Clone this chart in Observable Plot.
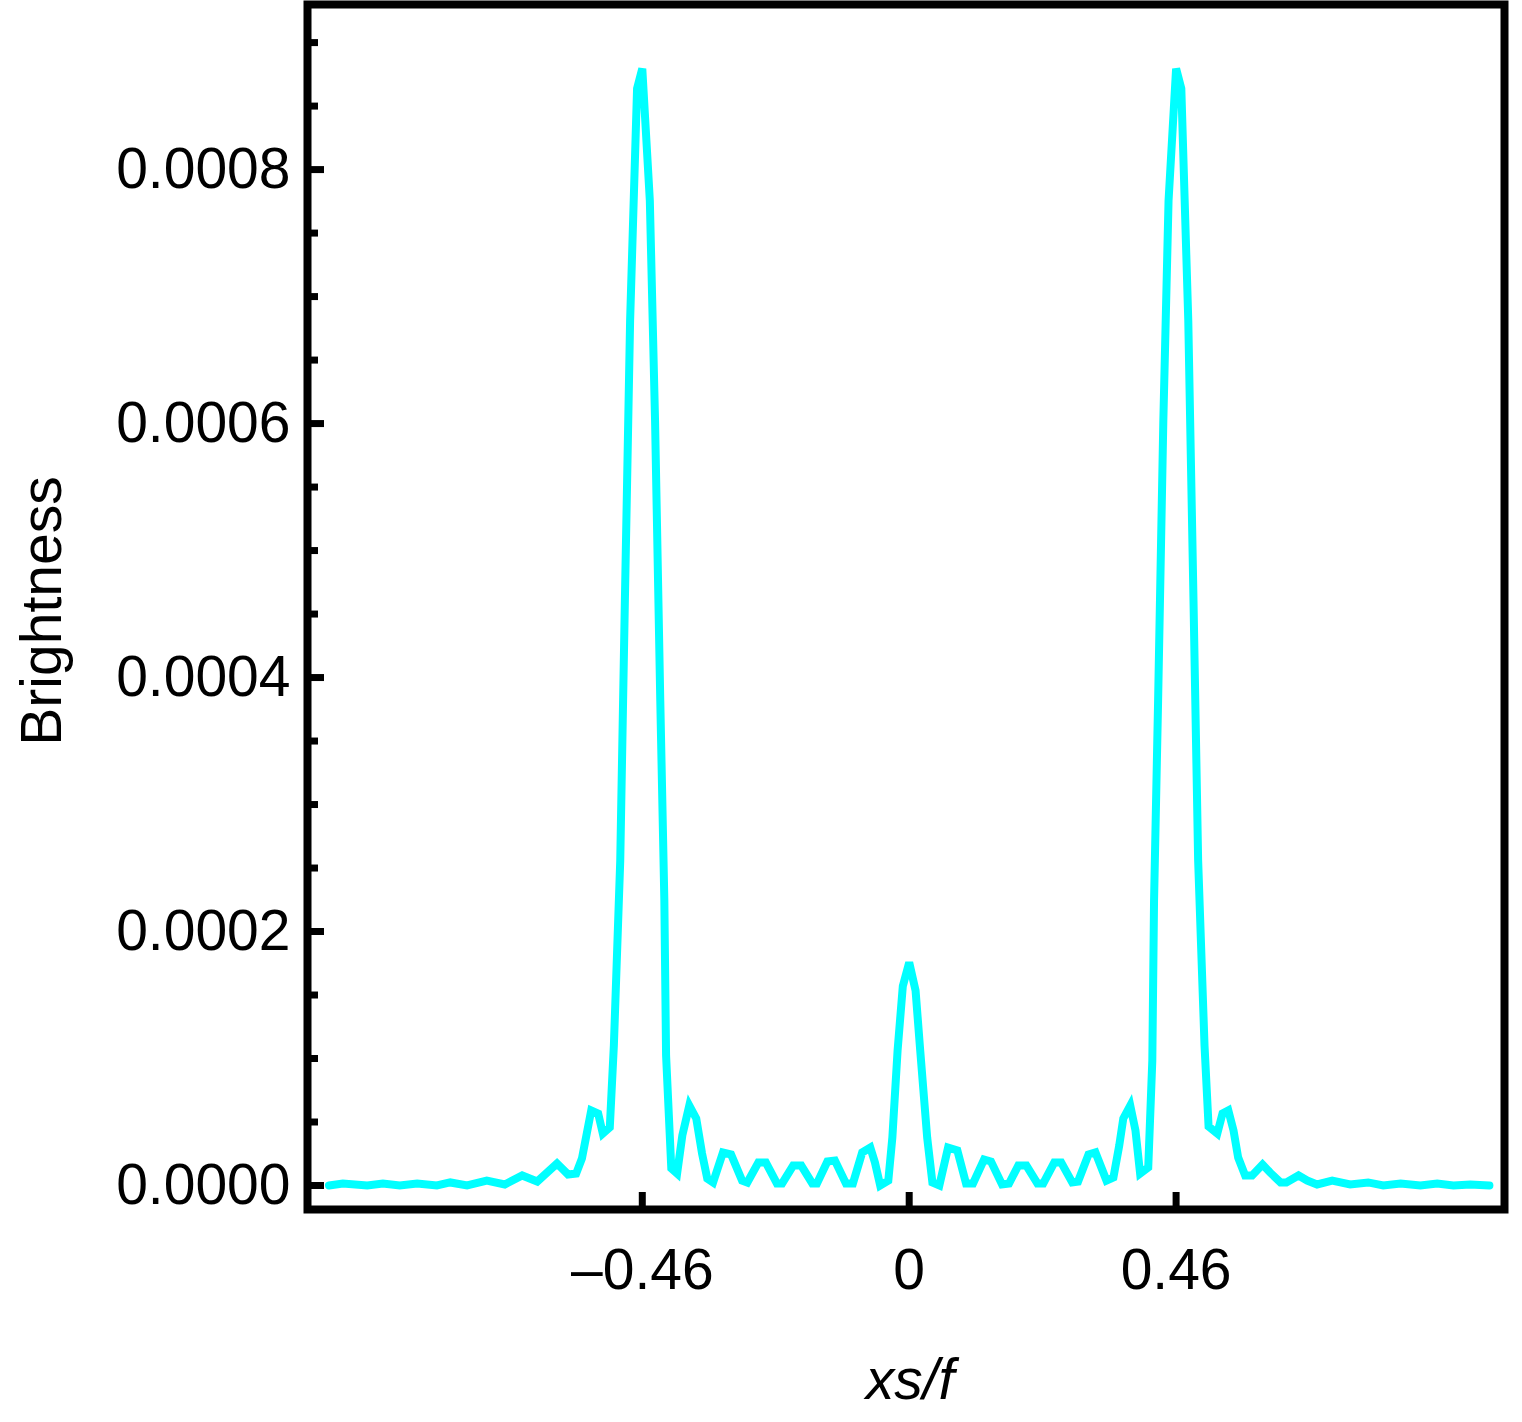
<!DOCTYPE html>
<html>
<head>
<meta charset="utf-8">
<script src="https://cdn.jsdelivr.net/npm/d3@7"></script>
<script src="https://cdn.jsdelivr.net/npm/@observablehq/plot@0.6"></script>
<style>
  html, body { margin: 0; padding: 0; background: #ffffff; }
</style>
</head>
<body>
<div id="chart"></div>
<script>
// xs/f positions of the curve vertices
const xsf = [
  -1.000, -0.976, -0.934, -0.907, -0.878, -0.848, -0.814, -0.791, -0.762, -0.728,
  -0.697, -0.667, -0.641, -0.607, -0.588, -0.574, -0.564, -0.548, -0.536, -0.528,
  -0.516, -0.509, -0.498, -0.490, -0.481, -0.469, -0.460, -0.447, -0.438, -0.429,
  -0.422, -0.419, -0.410, -0.400, -0.391, -0.379, -0.367, -0.357, -0.348, -0.338,
  -0.321, -0.307, -0.288, -0.279, -0.260, -0.247, -0.228, -0.219, -0.200, -0.186,
  -0.167, -0.159, -0.141, -0.128, -0.109, -0.097, -0.081, -0.067, -0.059, -0.050,
  -0.036, -0.029, -0.020, -0.011, 0.000, 0.011, 0.019, 0.031, 0.040, 0.052,
  0.067, 0.083, 0.098, 0.110, 0.129, 0.141, 0.160, 0.172, 0.188, 0.202,
  0.221, 0.231, 0.250, 0.262, 0.281, 0.291, 0.309, 0.321, 0.340, 0.352,
  0.362, 0.369, 0.381, 0.390, 0.398, 0.412, 0.419, 0.422, 0.429, 0.438,
  0.447, 0.460, 0.469, 0.481, 0.490, 0.498, 0.509, 0.516, 0.531, 0.540,
  0.550, 0.559, 0.567, 0.579, 0.591, 0.609, 0.622, 0.640, 0.650, 0.671,
  0.686, 0.703, 0.729, 0.760, 0.791, 0.817, 0.847, 0.881, 0.910, 0.938,
  0.967, 1.000
];

// Brightness at each vertex
const brightness = [
  0.0e-6, 1.6e-6, 0.0e-6, 1.6e-6, 0.0e-6, 1.6e-6, 0.0e-6, 2.4e-6, 0.0e-6, 3.9e-6,
  0.8e-6, 7.9e-6, 3.1e-6, 17.3e-6, 8.7e-6, 9.4e-6, 21.3e-6, 59.1e-6, 56.7e-6, 40.9e-6,
  45.7e-6, 110.2e-6, 255.9e-6, 460.6e-6, 681.1e-6, 863.8e-6, 879.5e-6, 775.6e-6, 602.4e-6, 381.9e-6,
  224.4e-6, 102.4e-6, 13.4e-6, 9.4e-6, 39.4e-6, 63.0e-6, 52.8e-6, 25.2e-6, 5.5e-6, 2.4e-6,
  26.0e-6, 24.4e-6, 3.9e-6, 2.4e-6, 18.1e-6, 18.1e-6, 1.6e-6, 1.6e-6, 15.7e-6, 15.7e-6,
  1.6e-6, 1.6e-6, 18.9e-6, 19.7e-6, 1.6e-6, 1.6e-6, 26.0e-6, 29.9e-6, 18.1e-6, 0.0e-6,
  3.9e-6, 37.8e-6, 106.3e-6, 157.0e-6, 175.6e-6, 153.5e-6, 106.3e-6, 37.8e-6, 2.4e-6, 0.0e-6,
  29.9e-6, 27.6e-6, 1.6e-6, 1.6e-6, 20.5e-6, 18.9e-6, 0.8e-6, 1.6e-6, 15.7e-6, 15.7e-6,
  1.6e-6, 1.6e-6, 18.1e-6, 18.1e-6, 2.4e-6, 3.1e-6, 24.4e-6, 26.0e-6, 3.9e-6, 6.3e-6,
  31.5e-6, 52.8e-6, 63.0e-6, 43.3e-6, 9.4e-6, 14.2e-6, 98.4e-6, 224.4e-6, 381.9e-6, 602.4e-6,
  775.6e-6, 879.5e-6, 863.8e-6, 681.1e-6, 460.6e-6, 255.9e-6, 110.2e-6, 46.5e-6, 40.9e-6, 56.7e-6,
  59.1e-6, 43.3e-6, 22.0e-6, 7.9e-6, 7.9e-6, 16.5e-6, 10.2e-6, 2.4e-6, 2.4e-6, 7.9e-6,
  3.9e-6, 0.8e-6, 3.9e-6, 0.8e-6, 2.4e-6, 0.0e-6, 1.6e-6, 0.0e-6, 1.6e-6, 0.0e-6,
  0.8e-6, 0.0e-6
];

const yMajorTicks = [0, 0.0002, 0.0004, 0.0006, 0.0008];
const yMinorTicks = [0.00005, 0.0001, 0.00015, 0.00025, 0.0003, 0.00035, 0.00045, 0.0005,
  0.00055, 0.00065, 0.0007, 0.00075, 0.00085, 0.0009];
const xTicks = [-0.46, 0, 0.46];
const xLabel = "xs/f";
const yLabel = "Brightness";

const data = xsf.map((x, i) => ({x, y: brightness[i]}));

const font = "'Liberation Sans', Arimo, Arial, Helvetica, sans-serif";

const chart = Plot.plot({
  width: 1522,
  height: 1422,
  marginLeft: 307,
  marginRight: 18,
  marginTop: 4,
  marginBottom: 213,
  style: {fontFamily: font, fontSize: "57px", color: "black", background: "white"},
  x: {domain: [-1.037, 1.026]},
  y: {domain: [-1.89e-5, 9.3e-4]},
  marks: [
    Plot.line(data, {x: "x", y: "y", stroke: "#00ffff", strokeWidth: 8,
      strokeLinejoin: "miter", strokeMiterlimit: 4}),
    Plot.axisY({ticks: yMinorTicks, tickSize: -11, tickFormat: () => "", strokeWidth: 7, label: null}),
    Plot.axisY({ticks: yMajorTicks, tickSize: -17, tickFormat: () => "", strokeWidth: 7, label: null}),
    Plot.axisY({ticks: yMajorTicks, tickSize: 0, tickPadding: 17, fontSize: 57,
      tickFormat: d => d.toFixed(4), label: null}),
    Plot.axisX({ticks: xTicks, tickSize: -17, tickFormat: () => "", strokeWidth: 7, label: null}),
    Plot.axisX({ticks: xTicks, tickSize: 0, tickPadding: 39, fontSize: 57,
      tickFormat: d => d < 0 ? "\u2013" + Math.abs(d) : String(d), label: null}),
    Plot.frame({stroke: "black", strokeWidth: 8}),
    Plot.text([yLabel], {text: d => d, frameAnchor: "left", textAnchor: "middle", rotate: -90,
      dx: -265, dy: 4, fontSize: 57}),
    Plot.text([xLabel], {text: d => d, frameAnchor: "bottom", dx: 4, dy: 189, lineAnchor: "bottom",
      fontSize: 57, fontStyle: "italic"})
  ]
});

document.getElementById("chart").appendChild(chart);
</script>
</body>
</html>
